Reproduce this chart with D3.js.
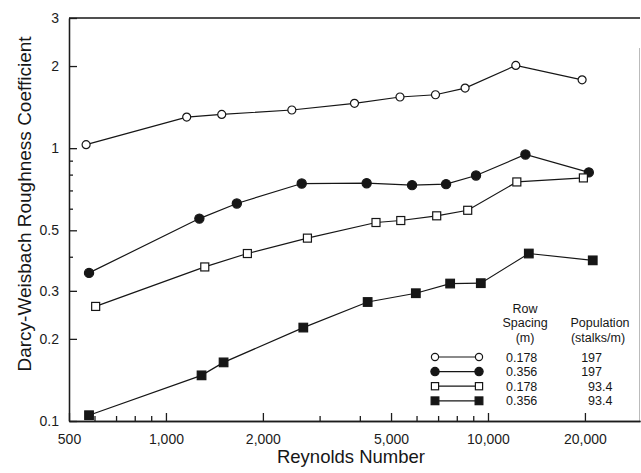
<!DOCTYPE html>
<html>
<head>
<meta charset="utf-8">
<script src="https://cdn.jsdelivr.net/npm/d3@7"></script>
<style>
body { margin: 0; background: #fff; }
svg { display: block; font-family: "Liberation Sans", Arial, Helvetica, sans-serif; }
.axis path, .axis line { stroke: #1c1c1c; stroke-width: 1.3; }
.axis text { font-size: 14px; fill: #1c1c1c; }
</style>
</head>
<body>
<div id="content"></div>
<script>
// values: Reynolds number (x) vs Darcy-Weisbach roughness coefficient (y)
var reOpenCircle = [565, 1160, 1490, 2460, 3850, 5330, 6870, 8490, 12200, 19600];
var kOpenCircle = [1.03, 1.30, 1.33, 1.38, 1.46, 1.54, 1.57, 1.66, 2.01, 1.78];

var reFilledCircle = [577, 1270, 1660, 2640, 4200, 5810, 7410, 9180, 13070, 20560];
var kFilledCircle = [0.349, 0.552, 0.627, 0.742, 0.744, 0.732, 0.738, 0.794, 0.948, 0.815];

var reOpenSquare = [605, 1320, 1790, 2750, 4490, 5360, 6930, 8650, 12290, 19780];
var kOpenSquare = [0.263, 0.367, 0.411, 0.468, 0.534, 0.543, 0.565, 0.592, 0.752, 0.778];

var reFilledSquare = [577, 1290, 1510, 2670, 4230, 5970, 7630, 9500, 13390, 21150];
var kFilledSquare = [0.105, 0.147, 0.164, 0.220, 0.273, 0.294, 0.319, 0.320, 0.411, 0.388];

// legend columns
var rowSpacing = ["0.178", "0.356", "0.178", "0.356"];
var population = ["197", "197", "93.4", "93.4"];

// ticks
var xMajor = [500, 1000, 2000, 5000, 10000, 20000];
var xMinor = [600, 700, 800, 900, 3000, 4000, 6000, 7000, 8000, 9000];
var yMajor = [0.1, 0.2, 0.3, 0.5, 1, 2, 3];
var yMinor = [0.4, 0.6, 0.7, 0.8, 0.9];

var series = [
    { re: reOpenCircle, k: kOpenCircle },
    { re: reFilledCircle, k: kFilledCircle },
    { re: reOpenSquare, k: kOpenSquare },
    { re: reFilledSquare, k: kFilledSquare }
];

var ink = "#161616";

var margin = { top: 18, right: 1, bottom: 52, left: 69 },
    w = 641 - margin.left - margin.right,
    h = 473 - margin.top - margin.bottom;

var xScale = d3.scaleLog().domain([500, 29650]).range([0, w]),
    yScale = d3.scaleLog().domain([0.1, 3]).range([h, 0]);

var svg = d3.select("#content").append("svg")
    .attr("width", 641)
    .attr("height", 473);

var plot = svg.append("g")
    .attr("transform", "translate(" + margin.left + "," + margin.top + ")");

// frame: top line and faint right edge
plot.append("line")
    .attr("x1", 0).attr("x2", w).attr("y1", 0).attr("y2", 0)
    .attr("stroke", ink).attr("stroke-width", 1.3);
plot.append("line")
    .attr("x1", w - 0.5).attr("x2", w - 0.5).attr("y1", 30).attr("y2", h)
    .attr("stroke", "#bbb").attr("stroke-width", 1);

// axes, ticks point inward
var xAxis = d3.axisBottom(xScale)
    .tickValues(xMajor)
    .tickFormat(d3.format(",d"))
    .tickSizeInner(-8).tickSizeOuter(0).tickPadding(13);

var xAxisMinor = d3.axisBottom(xScale)
    .tickValues(xMinor).tickFormat("")
    .tickSizeInner(-5).tickSizeOuter(0);

var yAxis = d3.axisLeft(yScale)
    .tickValues(yMajor)
    .tickFormat(function(d) { return d >= 1 ? d3.format("d")(d) : d3.format(".1f")(d); })
    .tickSizeInner(-8).tickSizeOuter(0).tickPadding(10);

var yAxisMinor = d3.axisLeft(yScale)
    .tickValues(yMinor).tickFormat("")
    .tickSizeInner(-4).tickSizeOuter(0);

plot.append("g").attr("class", "x axis")
    .attr("transform", "translate(0," + h + ")")
    .call(xAxis);
plot.append("g").attr("class", "x axis minor")
    .attr("transform", "translate(0," + h + ")")
    .call(xAxisMinor);
plot.append("g").attr("class", "y axis").call(yAxis);
plot.append("g").attr("class", "y axis minor").call(yAxisMinor);

// axis titles
svg.append("text")
    .attr("x", 351)
    .attr("y", 463)
    .attr("text-anchor", "middle")
    .attr("fill", ink)
    .style("font-size", "18.5px")
    .text("Reynolds Number");

svg.append("text")
    .attr("transform", "translate(31,204) rotate(-90)")
    .attr("text-anchor", "middle")
    .attr("fill", ink)
    .style("font-size", "19px")
    .text("Darcy-Weisbach Roughness Coefficient");

// one marker per series type: open/filled circle, open/filled square
function addMarker(g, i, s) {
    var filled = i % 2 == 1, m;
    if (i < 2) {
        m = g.append("circle").attr("r", (filled ? 4.6 : 4) * s);
    } else {
        var a = (filled ? 8.6 : 8) * s;
        m = g.append("rect")
            .attr("x", -a / 2).attr("y", -a / 2)
            .attr("width", a).attr("height", a);
    }
    m.attr("fill", filled ? ink : "#fff")
        .attr("stroke", ink)
        .attr("stroke-width", 1.2);
}

var line = d3.line()
    .x(function(d) { return xScale(d[0]); })
    .y(function(d) { return yScale(d[1]); });

series.forEach(function(s, i) {
    var pts = s.re.map(function(r, j) { return [r, s.k[j]]; });

    plot.append("path")
        .datum(pts)
        .attr("fill", "none")
        .attr("stroke", ink)
        .attr("stroke-width", 1.2)
        .attr("d", line);

    plot.append("g").selectAll("g")
        .data(pts)
        .enter()
        .append("g")
        .attr("transform", function(d) {
            return "translate(" + xScale(d[0]) + "," + yScale(d[1]) + ")"; })
        .each(function() { addMarker(d3.select(this), i, 1); });
});

// legend
var legend = svg.append("g")
    .attr("fill", ink)
    .style("font-size", "12.5px");

var headers = [
    { t: "Row", x: 525, y: 312.5 },
    { t: "Spacing", x: 525, y: 327 },
    { t: "(m)", x: 525, y: 341.5 },
    { t: "Population", x: 600, y: 327 },
    { t: "(stalks/m)", x: 598, y: 341.5 }
];

legend.selectAll(".hdr")
    .data(headers)
    .enter()
    .append("text")
    .attr("class", "hdr")
    .attr("x", function(d) { return d.x; })
    .attr("y", function(d) { return d.y; })
    .attr("text-anchor", "middle")
    .text(function(d) { return d.t; });

var rowY0 = 357, rowGap = 14.6;

rowSpacing.forEach(function(rs, i) {
    var y = rowY0 + i * rowGap;
    var row = legend.append("g").attr("transform", "translate(0," + y + ")");

    row.append("line")
        .attr("x1", 435).attr("x2", 479)
        .attr("stroke", ink).attr("stroke-width", 1.2);
    addMarker(row.append("g").attr("transform", "translate(435,0)"), i, 0.9);
    addMarker(row.append("g").attr("transform", "translate(479,0)"), i, 0.9);

    row.append("text")
        .attr("x", 506).attr("y", 4.5)
        .text(rs);

    // population, lined up on the decimal point
    var parts = population[i].split(".");
    row.append("text")
        .attr("x", 602).attr("y", 4.5)
        .attr("text-anchor", "end")
        .text(parts[0]);
    if (parts.length > 1) {
        row.append("text")
            .attr("x", 602).attr("y", 4.5)
            .text("." + parts[1]);
    }
});
</script>
</body>
</html>
